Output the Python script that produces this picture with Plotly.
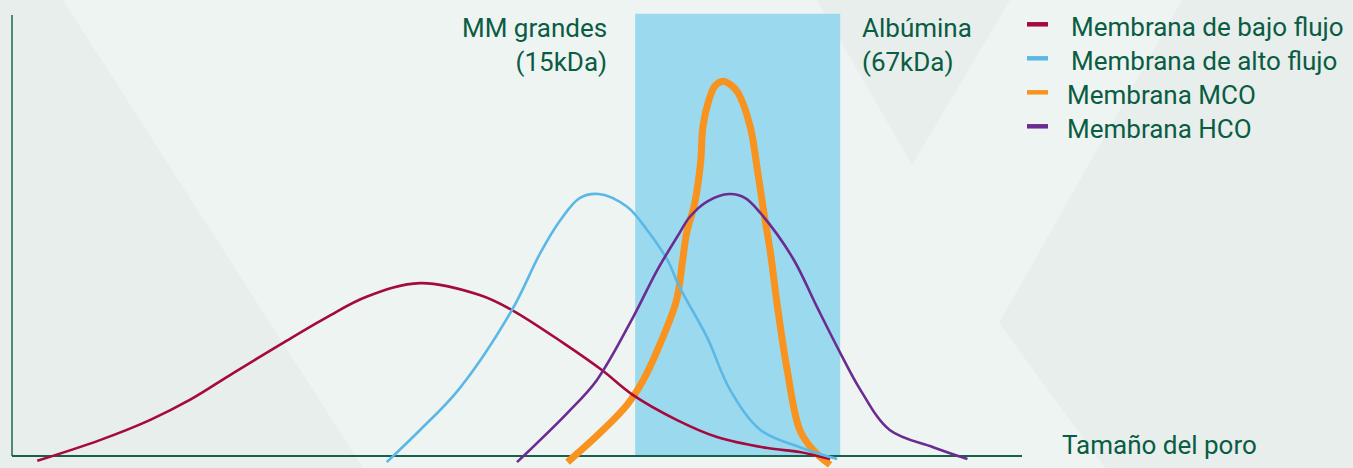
import plotly.graph_objects as go

W, H = 1353, 468

# ---------------- data (arbitrary units: pore size 0-100, relative amount 0-100) -------------
low_x = [2.5, 8.7, 13.7, 17.6, 21.9, 26.8, 31.2, 35.1, 40.4, 46.3, 49.5, 54.6, 58.4, 61.5,
         65.8, 69.8, 74.8, 78.0, 81.0]
low_y = [-1.1, 3.6, 8.2, 12.7, 18.8, 25.6, 31.5, 36.1, 39.2, 36.5, 33.1, 25.6, 19.5, 13.8,
         8.2, 4.3, 1.8, 0.9, -0.7]

high_x = [37.1, 40.4, 44.2, 49.5, 52.3, 54.3, 56.2, 58.1, 60.9, 62.9, 64.9, 66.1, 68.8,
          71.1, 74.1, 78.0, 81.7]
high_y = [-1.4, 5.9, 15.0, 33.1, 46.0, 53.5, 58.5, 59.4, 56.5, 51.2, 44.4, 38.3, 27.0,
          15.0, 5.9, 2.0, -0.7]

mco_x = [55.0, 58.2, 60.9, 62.5, 64.2, 65.8, 66.4, 66.8, 67.6, 68.2, 68.4, 69.0, 69.6,
         70.4, 71.2, 71.9, 73.1, 73.8, 74.4, 75.1, 75.7, 76.7, 78.0, 79.3, 81.0]
mco_y = [-1.4, 5.2, 11.6, 17.2, 25.6, 35.4, 44.4, 50.6, 57.4, 67.1, 74.6, 80.7, 83.9,
         85.0, 84.1, 82.3, 74.6, 64.9, 55.8, 46.0, 35.4, 20.2, 5.9, 1.4, -2.0]

hco_x = [50.0, 55.0, 57.9, 61.5, 63.9, 66.1, 67.1, 68.9, 71.0, 72.6, 74.1, 77.3, 79.7,
         82.0, 84.0, 86.9, 91.2, 94.6]
hco_y = [-1.4, 9.8, 17.2, 31.5, 42.2, 50.6, 54.2, 57.8, 59.4, 58.5, 55.1, 44.9, 33.8,
         23.4, 15.0, 5.9, 2.0, -0.7]

band_x = [61.7, 82.0]          # zone between large middle molecules and albumin
band_y = [0, 100.3]

names = ["Membrana de bajo flujo", "Membrana de alto flujo", "Membrana MCO", "Membrana HCO"]
colors = ["#a6093d", "#5bb8e6", "#f7931e", "#6a2c91"]
widths = [2.6, 2.6, 7, 2.6]
series = [(low_x, low_y), (high_x, high_y), (mco_x, mco_y), (hco_x, hco_y)]

label_left = "MM grandes<br>(15kDa)"
label_right = "Albúmina<br>(67kDa)"
x_title = "Tamaño del poro"

# ---------------- figure ----------------
TXT = "#0a5c44"
FONT = "Roboto"
BG = "#eef4f1"
BG2 = "#e7eeeb"

def px(x):
    return x / W

def py(y):
    return 1 - y / H

fig = go.Figure()

draw_order = [2, 0, 1, 3]
for i in draw_order:
    xs, ys = series[i]
    fig.add_trace(go.Scatter(x=xs, y=ys, mode="lines", name=names[i],
                             line=dict(color=colors[i], width=widths[i], shape="spline", smoothing=1.0),
                             showlegend=False, hoverinfo="skip"))

shapes = []
# background facets
shapes.append(dict(type="path", xref="paper", yref="paper", layer="below",
                   path=f"M 0 {py(0)} L {px(63)} {py(0)} L {px(363)} {py(468)} L 0 {py(468)} Z",
                   fillcolor=BG2, line=dict(width=0)))
shapes.append(dict(type="path", xref="paper", yref="paper", layer="below",
                   path=f"M {px(817)} {py(0)} L {px(1010)} {py(0)} L {px(912)} {py(165)} Z",
                   fillcolor=BG2, line=dict(width=0)))
shapes.append(dict(type="path", xref="paper", yref="paper", layer="below",
                   path=f"M {px(1182)} {py(0)} L {px(1353)} {py(0)} L {px(1353)} {py(468)} "
                        f"L {px(1105)} {py(468)} L {px(999)} {py(323)} Z",
                   fillcolor=BG2, line=dict(width=0)))
# highlighted band
shapes.append(dict(type="rect", xref="x", yref="y", layer="below",
                   x0=band_x[0], x1=band_x[1], y0=band_y[0], y1=band_y[1],
                   fillcolor="#9bdaee", line=dict(width=0)))
# axes
shapes.append(dict(type="line", xref="x", yref="y", layer="below",
                   x0=0, x1=0, y0=0, y1=100, line=dict(color="#4e8a75", width=2)))
shapes.append(dict(type="line", xref="x", yref="y", layer="below",
                   x0=0, x1=100, y0=0, y1=0, line=dict(color="#17604a", width=2)))

# legend markers + text
leg_rows = [24.3, 58.3, 92.3, 126.3]
leg_text_x = [1069, 1069, 1065, 1065]
annotations = []
for i, name in enumerate(names):
    shapes.append(dict(type="line", xref="paper", yref="paper",
                       x0=px(1027), x1=px(1048), y0=py(leg_rows[i]), y1=py(leg_rows[i]),
                       line=dict(color=colors[i], width=4.5)))
    annotations.append(dict(xref="paper", yref="paper", x=px(leg_text_x[i]), y=py(leg_rows[i] + 3),
                            text=name, showarrow=False, xanchor="left", yanchor="middle",
                            font=dict(family=FONT, size=26, color=TXT)))

annotations.append(dict(xref="paper", yref="paper", x=px(609), y=py(45), text=label_left,
                        showarrow=False, xanchor="right", yanchor="middle", align="right",
                        font=dict(family=FONT, size=26, color=TXT)))
annotations.append(dict(xref="paper", yref="paper", x=px(860), y=py(45), text=label_right,
                        showarrow=False, xanchor="left", yanchor="middle", align="left",
                        font=dict(family=FONT, size=26, color=TXT)))
annotations.append(dict(xref="paper", yref="paper", x=px(1060), y=py(445), text=x_title,
                        showarrow=False, xanchor="left", yanchor="middle",
                        font=dict(family=FONT, size=26, color=TXT)))

fig.update_layout(
    width=W, height=H,
    margin=dict(l=0, r=0, t=0, b=0),
    paper_bgcolor=BG, plot_bgcolor="rgba(0,0,0,0)",
    xaxis=dict(range=[-12 / 10.1, (W - 12) / 10.1], visible=False, fixedrange=True),
    yaxis=dict(range=[-(H - 456) / 4.41, 456 / 4.41], visible=False, fixedrange=True),
    shapes=shapes, annotations=annotations,
    showlegend=False,
)

fig.write_html("out.html", config={"displayModeBar": False},
               post_script="document.body.style.margin='0';document.body.style.overflow='hidden';")
